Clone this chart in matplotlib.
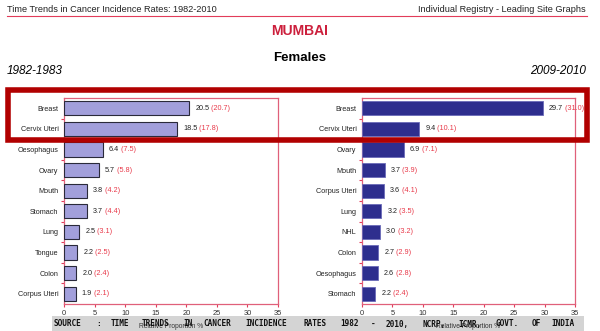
import matplotlib
matplotlib.use("Agg")
import matplotlib.pyplot as plt
from matplotlib.patches import Rectangle

plt.rcParams["font.family"] = ["Liberation Sans", "DejaVu Sans"]

# 1982-1983
sites_early = ["Breast", "Cervix Uteri", "Oesophagus", "Ovary", "Mouth",
               "Stomach", "Lung", "Tongue", "Colon", "Corpus Uteri"]
prop_early = [20.5, 18.5, 6.4, 5.7, 3.8, 3.7, 2.5, 2.2, 2.0, 1.9]
rate_early = [20.7, 17.8, 7.5, 5.8, 4.2, 4.4, 3.1, 2.5, 2.4, 2.1]

# 2009-2010
sites_late = ["Breast", "Cervix Uteri", "Ovary", "Mouth", "Corpus Uteri",
              "Lung", "NHL", "Colon", "Oesophagus", "Stomach"]
prop_late = [29.7, 9.4, 6.9, 3.7, 3.6, 3.2, 3.0, 2.7, 2.6, 2.2]
rate_late = [31.0, 10.1, 7.1, 3.9, 4.1, 3.5, 3.2, 2.9, 2.8, 2.4]

xticks = [0, 5, 10, 15, 20, 25, 30, 35]

W, H = 600, 331
fig = plt.figure(figsize=(6, 3.31), dpi=100)

RED = "#e23c5a"
SPINE = "#e0607a"


def fx(px):
    return px / W


def fy(py):
    return 1 - py / H


# header
fig.text(fx(7), fy(10), "Time Trends in Cancer Incidence Rates: 1982-2010",
         fontsize=6.6, color="#222222", va="center", ha="left")
fig.text(fx(586), fy(10), "Individual Registry - Leading Site Graphs",
         fontsize=6.6, color="#222222", va="center", ha="right")
fig.add_artist(plt.Line2D([fx(7), fx(587)], [fy(15.5), fy(15.5)],
                          color=RED, lw=0.8))

fig.text(0.5, fy(31), "MUMBAI", fontsize=10, fontweight="bold",
         color="#cc1f3c", ha="center", va="center")
fig.text(0.5, fy(58), "Females", fontsize=9.5, fontweight="bold",
         color="black", ha="center", va="center")
fig.text(fx(7), fy(71), "1982-1983", fontsize=8.5, style="italic",
         ha="left", va="center")
fig.text(fx(586), fy(71), "2009-2010", fontsize=8.5, style="italic",
         ha="right", va="center")


def draw(ax, sites, props, rates, face, edge, ew):
    y = list(range(len(sites)))
    ax.barh(y, props, height=0.68, color=face, edgecolor=edge, linewidth=ew,
            zorder=3)
    ax.set_xlim(0, 35)
    ax.set_ylim(len(sites) - 0.5, -0.5)
    ax.set_facecolor("none")
    ax.set_yticks(y)
    ax.set_yticklabels(sites, fontsize=5.2, color="#222222")
    ax.tick_params(axis="y", which="major", length=0, pad=4)
    ax.set_yticks([i + 0.5 for i in y[:-1]], minor=True)
    ax.tick_params(axis="y", which="minor", length=2, color=RED, width=0.8)
    ax.set_xticks(xticks)
    ax.tick_params(axis="x", length=2.5, color=RED, width=0.8,
                   labelsize=5.4, pad=1.5, labelcolor="#333333")
    for s in ax.spines.values():
        s.set_color(SPINE)
        s.set_linewidth(0.9)
    for yi, p, r in zip(y, props, rates):
        t = ax.annotate(f"{p:.1f}", xy=(p, yi), xytext=(4.3, 0),
                        textcoords="offset points", fontsize=5.2,
                        color="#222222", va="center", ha="left")
        ax.annotate(f" ({r:.1f})", xy=(1, 0.5), xycoords=t, fontsize=5.2,
                    color="#e83a4a", va="center", ha="left")
    ax.set_xlabel("Relative Proportion %", fontsize=4.8, color="#333333",
                  labelpad=5)


ax1 = fig.add_axes([fx(64), fy(304), fx(214), 206 / H])
draw(ax1, sites_early, prop_early, rate_early, "#a29fdb", "#2a2a3a", 0.8)

ax2 = fig.add_axes([fx(362), fy(304), fx(213), 206 / H])
draw(ax2, sites_late, prop_late, rate_late, "#2e2e8e", "#6a6ab8", 0.6)

# highlight box around the two leading sites
fig.add_artist(Rectangle((fx(8), fy(139.5)), fx(579), 49.5 / H,
                         fill=False, edgecolor="#b10000", lw=4,
                         transform=fig.transFigure, zorder=10))

# source strip
fig.add_artist(Rectangle((fx(52), 0), fx(532), 15 / H, facecolor="#d4d4d4",
                         edgecolor="none", transform=fig.transFigure,
                         zorder=-1))
words = ["SOURCE", ":", "TIME", "TRENDS", "IN", "CANCER", "INCIDENCE",
         "RATES", "1982", "-", "2010,", "NCRP,", "ICMR,", "GOVT.", "OF",
         "INDIA"]
x0, x1 = 54, 579
cw = 5.5
total = sum(len(w) for w in words) * cw
gap = (x1 - x0 - total) / (len(words) - 1)
x = x0
for w in words:
    fig.text(fx(x), fy(324), w, fontsize=5.6, family="DejaVu Sans Mono",
             fontweight="bold", color="#111111", va="center", ha="left",
             zorder=5)
    x += len(w) * cw + gap

fig.savefig("out.png", dpi=100)
